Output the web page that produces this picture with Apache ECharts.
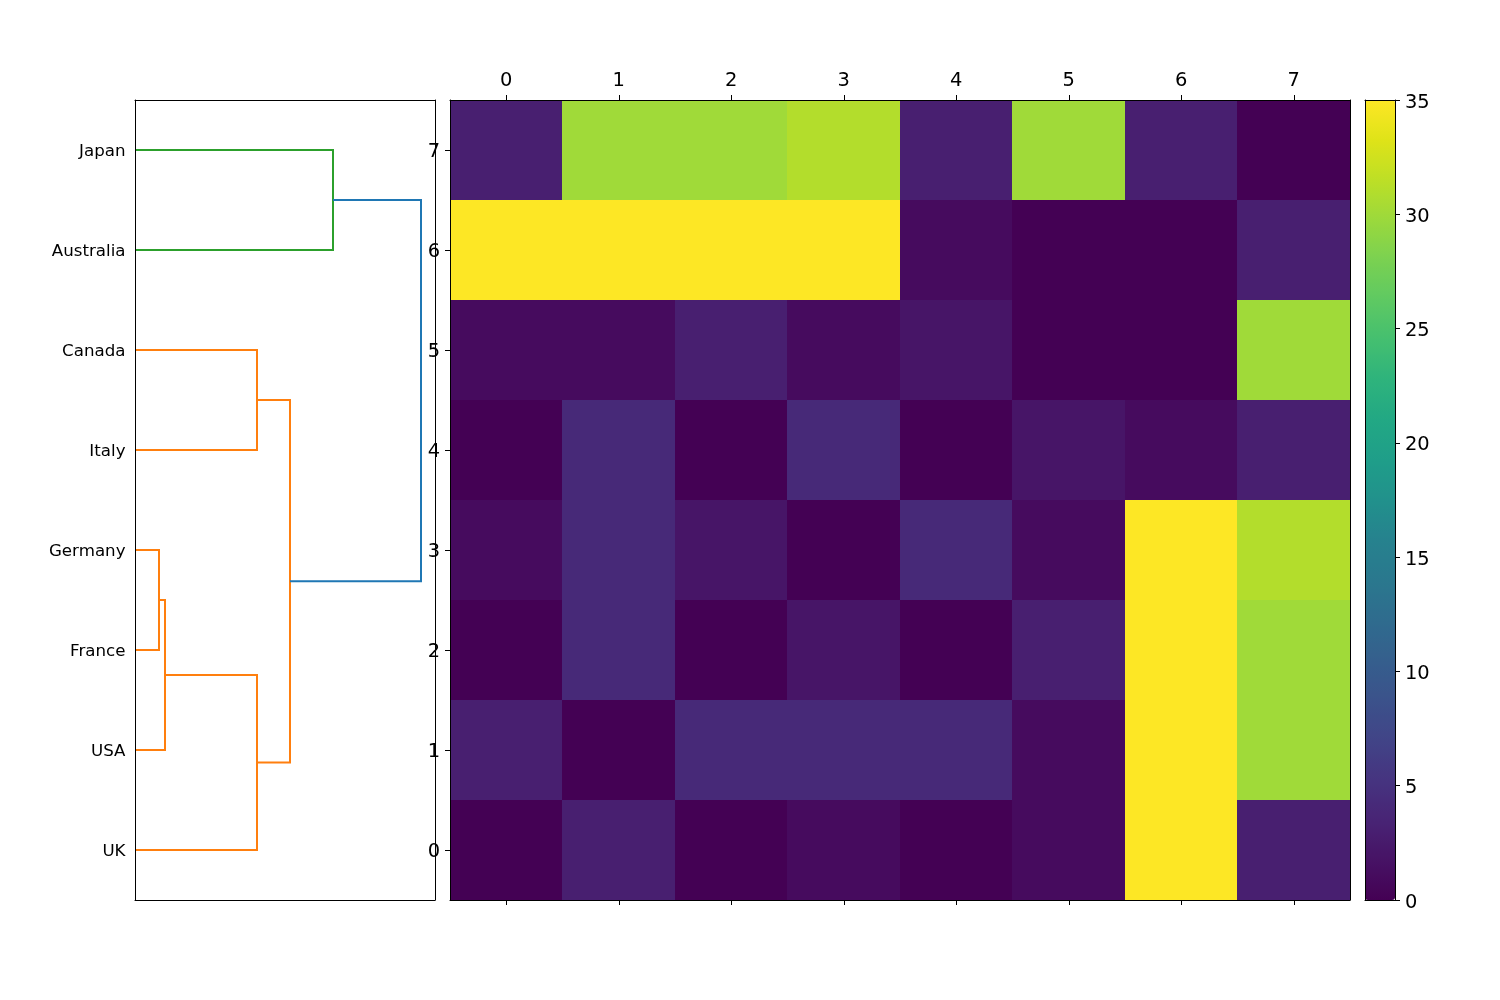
<!DOCTYPE html>
<html lang="en">
<head>
    <meta charset="utf-8"/>
    <title>Dendrogram and heatmap</title>
    <script src="https://cdn.jsdelivr.net/npm/echarts@6/dist/echarts.min.js"></script>
    <style>
        html, body { margin: 0; padding: 0; background: #fff; overflow: hidden; }
        #main { width: 1500px; height: 1000px; }
    </style>
</head>
<body>
<div id="main"></div>
<script>
    // leaves of the dendrogram, bottom to top
    var leafLabels = ['UK', 'USA', 'France', 'Germany', 'Italy', 'Canada', 'Australia', 'Japan'];
    // links: distance and leaf position of each of the 4 bracket points
    var linkDist = [
        [0, 4.8, 4.8, 0],
        [4.8, 6, 6, 0],
        [6, 24.4, 24.4, 0],
        [0, 24.4, 24.4, 0],
        [24.4, 31, 31, 24.4],
        [0, 39.6, 39.6, 0],
        [31, 57.2, 57.2, 39.6]
    ];
    var linkPos = [
        [35, 35, 25, 25],
        [30, 30, 15, 15],
        [22.5, 22.5, 5, 5],
        [55, 55, 45, 45],
        [50, 50, 13.75, 13.75],
        [75, 75, 65, 65],
        [31.875, 31.875, 70, 70]
    ];
    var linkColors = ['#ff7f0e', '#ff7f0e', '#ff7f0e', '#ff7f0e', '#ff7f0e', '#2ca02c', '#1f77b4'];

    // heatmap, rows 0..7 from the bottom
    var cellLabels = ['0', '1', '2', '3', '4', '5', '6', '7'];
    var row0 = [0, 3, 0, 1, 0, 1, 35, 3];
    var row1 = [3, 0, 4, 4, 4, 1, 35, 30];
    var row2 = [0, 4, 0, 2, 0, 3, 35, 30];
    var row3 = [1, 4, 2, 0, 4, 1, 35, 31];
    var row4 = [0, 4, 0, 4, 0, 2, 1, 3];
    var row5 = [1, 1, 3, 1, 2, 0, 0, 30];
    var row6 = [35, 35, 35, 35, 1, 0, 0, 3];
    var row7 = [3, 30, 30, 31, 3, 30, 3, 0];
    var rows = [row0, row1, row2, row3, row4, row5, row6, row7];

    var viridis = ['#440154', '#471365', '#482475', '#463480', '#414487', '#3b528b', '#355f8d',
        '#2f6c8e', '#2a788e', '#26828e', '#21918c', '#1f9e89', '#22a884', '#2eb37c', '#44bf70',
        '#5ec962', '#7ad151', '#9bd93c', '#bddf26', '#dfe318', '#fde725'];

    var cells = [];
    rows.forEach(function (row, y) {
        row.forEach(function (v, x) {
            cells.push([x, y, v]);
        });
    });

    var series = linkDist.map(function (dist, i) {
        return {
            type: 'line',
            xAxisIndex: 0,
            yAxisIndex: 0,
            symbol: 'none',
            silent: true,
            z: 3,
            lineStyle: {color: linkColors[i], width: 2, join: 'miter'},
            data: dist.map(function (d, j) {
                return [d, linkPos[i][j]];
            })
        };
    });
    var heatIndex = series.length;
    // custom rects snapped to whole pixels, the heatmap series leaves hairlines between cells
    series.push({
        type: 'custom',
        xAxisIndex: 1,
        yAxisIndex: 2,
        z: 1,
        encode: {x: 0, y: 1, tooltip: 2},
        renderItem: function (params, api) {
            var p = api.coord([api.value(0), api.value(1)]);
            var size = api.size([1, 1]);
            var x0 = Math.floor(p[0] - size[0] / 2);
            var x1 = Math.floor(p[0] + size[0] / 2);
            var y0 = Math.floor(p[1] - size[1] / 2);
            var y1 = Math.floor(p[1] + size[1] / 2);
            return {
                type: 'rect',
                shape: {x: x0, y: y0, width: x1 - x0, height: y1 - y0},
                style: {fill: api.visual('color')}
            };
        },
        data: cells
    });

    var fontFamily = 'DejaVu Sans';
    var black = {color: '#000', width: 1};

    function frameAxis(gridIndex, position, type, data) {
        return {
            type: type,
            gridIndex: gridIndex,
            position: position,
            data: data,
            min: type === 'value' ? 0 : undefined,
            max: type === 'value' ? 1 : undefined,
            z: 5,
            axisLine: {show: true, onZero: false, lineStyle: black},
            axisTick: {show: false},
            axisLabel: {show: false},
            splitLine: {show: false}
        };
    }

    function cellAxis(gridIndex, position, showLabel, margin) {
        var a = frameAxis(gridIndex, position, 'category', cellLabels);
        a.axisTick = {show: true, alignWithLabel: true, length: 5, lineStyle: black};
        a.axisLabel = {show: showLabel, interval: 0, fontSize: 19.44, margin: margin,
            fontFamily: fontFamily, color: '#000'};
        return a;
    }

    // nudges y axis labels down: top aligned, text sits in the middle of a short line
    function nudgeDown(axis, px) {
        axis.axisLabel.verticalAlign = 'top';
        axis.axisLabel.lineHeight = px * 2;
        return axis;
    }

    var option = {
        animation: false,
        backgroundColor: '#fff',
        textStyle: {fontFamily: fontFamily},
        grid: [
            {left: 135, top: 100, width: 300, height: 800},
            {left: 450, top: 100, width: 900, height: 800},
            {left: 1365, top: 100, width: 30, height: 800}
        ],
        xAxis: [
            {type: 'value', gridIndex: 0, min: 0, max: 60, show: false},
            cellAxis(1, 'top', true, 10),
            cellAxis(1, 'bottom', false, 8),
            frameAxis(2, 'top', 'value'),
            frameAxis(2, 'bottom', 'value'),
            frameAxis(0, 'top', 'value'),
            frameAxis(0, 'bottom', 'value')
        ],
        yAxis: [
            {type: 'value', gridIndex: 0, min: 0, max: 80, show: false},
            nudgeDown({
                type: 'category',
                gridIndex: 0,
                position: 'left',
                data: leafLabels,
                axisLine: {show: false},
                axisTick: {show: false},
                axisLabel: {interval: 0, fontSize: 16.67, margin: 9.5,
                    fontFamily: fontFamily, color: '#000'}
            }, 2),
            nudgeDown(cellAxis(1, 'left', true, 10), 2),
            frameAxis(1, 'right', 'category', cellLabels),
            nudgeDown({
                type: 'value',
                gridIndex: 2,
                position: 'right',
                min: 0,
                max: 35,
                interval: 5,
                z: 5,
                axisLine: {show: true, onZero: false, lineStyle: black},
                axisTick: {show: true, length: 5, lineStyle: black},
                axisLabel: {fontSize: 19.44, margin: 10, fontFamily: fontFamily, color: '#000'},
                splitLine: {show: false}
            }, 2.5),
            frameAxis(2, 'left', 'value'),
            frameAxis(0, 'left', 'value'),
            frameAxis(0, 'right', 'value')
        ],
        visualMap: {
            type: 'continuous',
            seriesIndex: heatIndex,
            dimension: 2,
            min: 0,
            max: 35,
            left: 1365,
            top: 100,
            itemWidth: 30,
            itemHeight: 800,
            padding: 0,
            calculable: false,
            hoverLink: false,
            z: 1,
            inRange: {color: viridis}
        },
        series: series
    };

    var myChart = echarts.init(document.getElementById('main'), null, {renderer: 'canvas', width: 1500, height: 1000});
    myChart.setOption(option);
</script>
</body>
</html>
